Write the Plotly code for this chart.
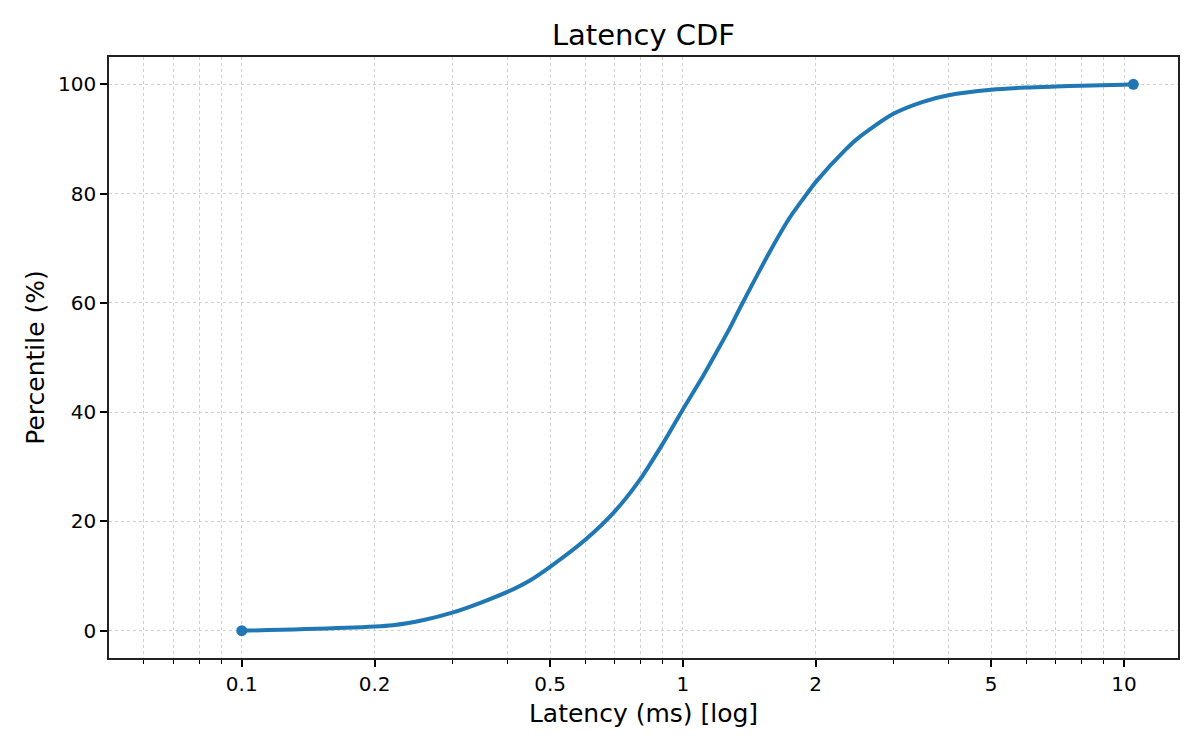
import plotly.graph_objects as go

# latency CDF (ms -> percentile)
latency_ms = [0.1, 0.22, 0.26, 0.3, 0.35, 0.4, 0.45, 0.5, 0.6, 0.7, 0.8, 0.9,
              1.0, 1.1, 1.2, 1.27, 1.36, 1.575, 1.74, 1.92, 2.0, 2.34, 2.5,
              3.0, 3.5, 4.0, 5.0, 6.0, 7.0, 8.0, 10.0, 10.5]
percentile = [0, 1.0, 2.0, 3.3, 5.2, 7.1, 9.2, 11.7, 16.6, 21.8, 27.7, 34.2,
              40.5, 46.0, 51.4, 55.0, 59.7, 69.4, 75.4, 80.2, 82.1, 88.1, 90.2,
              94.6, 96.8, 98.0, 99.0, 99.4, 99.6, 99.75, 99.92, 100]

x_major = [0.1, 0.2, 0.5, 1, 2, 5, 10]
x_major_labels = ["0.1", "0.2", "0.5", "1", "2", "5", "10"]
x_minor = [0.06, 0.07, 0.08, 0.09, 0.3, 0.4, 0.6, 0.7, 0.8, 0.9, 3, 4, 6, 7, 8, 9]
y_ticks = [0, 20, 40, 60, 80, 100]

blue = "#1f77b4"
grid = "#d0d0d0"
font = "DejaVu Sans"

fig = go.Figure()
fig.add_trace(go.Scatter(x=latency_ms, y=percentile, mode="lines",
                         line=dict(color=blue, width=4, shape="spline", smoothing=0.8),
                         showlegend=False))
# markers only on the first and last point
fig.add_trace(go.Scatter(x=[latency_ms[0], latency_ms[-1]],
                         y=[percentile[0], percentile[-1]], mode="markers",
                         marker=dict(color=blue, size=11), showlegend=False))

# the page body has an 8px margin, so the figure is shrunk by that amount
fig.update_layout(
    width=1192, height=742,
    margin=dict(l=101, r=22, t=49, b=92),
    paper_bgcolor="white", plot_bgcolor="white",
    font=dict(family=font, color="black"),
    title=dict(text="Latency CDF", font=dict(size=29, color="black"),
               x=0.5, xref="paper", xanchor="center",
               y=1, yref="paper", yanchor="bottom", pad=dict(b=12)),
)

fig.update_xaxes(
    type="log", range=[-1.301, 1.1224],
    tickmode="array", tickvals=x_major, ticktext=x_major_labels,
    ticks="outside", ticklen=7, tickwidth=1.6, tickcolor="black",
    tickfont=dict(size=20),
    showgrid=True, gridcolor=grid, gridwidth=1, griddash="dot",
    minor=dict(tickmode="array", tickvals=x_minor, ticks="outside", ticklen=4,
               tickwidth=1.2, tickcolor="black", showgrid=True,
               gridcolor=grid, gridwidth=1, griddash="dot"),
    showline=True, linecolor="#222222", linewidth=1.6, mirror=True,
    zeroline=False,
    title=dict(text="Latency (ms) [log]", font=dict(size=25), standoff=10),
)

fig.update_yaxes(
    range=[-5, 105], tickmode="array", tickvals=y_ticks,
    ticks="outside", ticklen=7, tickwidth=1.6, tickcolor="black",
    tickfont=dict(size=20),
    showgrid=True, gridcolor=grid, gridwidth=1, griddash="dot",
    showline=True, linecolor="#222222", linewidth=1.6, mirror=True,
    zeroline=False,
    title=dict(text="Percentile (%)", font=dict(size=25), standoff=6),
)

fig.write_html("out.html")
